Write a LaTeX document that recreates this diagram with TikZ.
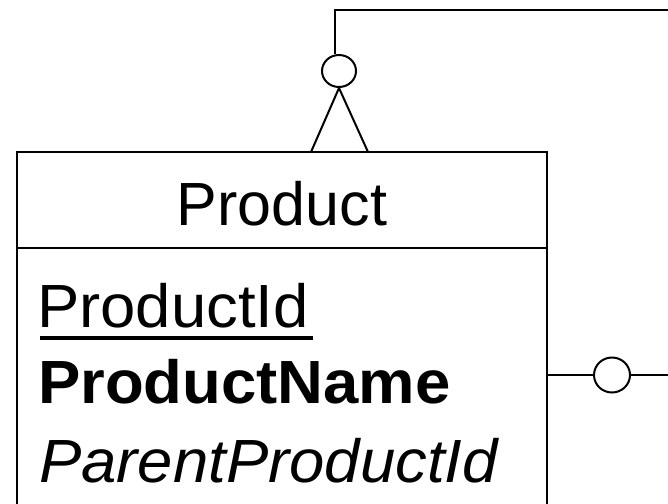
\documentclass[tikz,border=0pt]{standalone}
\usepackage{fontspec}
\setmainfont{Liberation Sans}
\newfontfamily\attrfont[FakeStretch=1.04]{Liberation Sans}
\usetikzlibrary{shapes.geometric}
\tikzset{
  conn/.style={line width=2pt},
  boxline/.style={line width=2pt},
  opt/.style={draw, ellipse, line width=2pt, inner sep=0pt},
  attr/.style={anchor=base west, inner sep=0pt, font=\attrfont\fontsize{61}{73}\selectfont},
  title/.style={anchor=base, inner sep=0pt, font=\fontsize{61}{73}\selectfont}
}
\begin{document}
\begin{tikzpicture}[x=1pt,y=-1pt]
\useasboundingbox (0,0) rectangle (668,503);
\clip (0,0) rectangle (668,503);
% entity box
\coordinate (tl) at (17,152);
\coordinate (tr) at (547,152);
\coordinate (bl) at (17,520);
\coordinate (br) at (547,520);
\coordinate (dl) at (17,248);
\coordinate (dr) at (547,248);
\draw[boxline] (bl) -- (tl) -- (tr) -- (br);
\draw[boxline] (dl) -- (dr);
% texts
\node[title] (ptitle) at (282,225) {Product};
\node[attr] (pid) at (37,327) {ProductId};
\draw[line width=3.5pt] ([xshift=3pt,yshift=-11pt]pid.base west) -- ([xshift=4.5pt,yshift=-11pt]pid.base east);
\node[attr] (pname) at (38,403) {\bfseries ProductName};
\node[attr] (ppid) at (39,482) {\itshape ParentProductId};
% top self relationship
\node[opt, minimum width=34pt, minimum height=32pt] (c1) at (339,71) {};
\coordinate (apex) at (339,88);
\coordinate (f1) at (311,152);
\coordinate (f2) at (368,152);
\coordinate (topl) at (335,10);
\coordinate (topr) at (670,10);
\draw[conn] (topr) -- (topl) -- ([xshift=-4pt]c1.north);
\draw[conn] (f1) -- (apex) -- (f2);
% right relationship
\node[opt, minimum width=36pt, minimum height=35pt] (c2) at (612,375) {};
\coordinate (rs) at (547,375);
\coordinate (re) at (670,375);
\draw[conn] (rs) -- (c2.west);
\draw[conn] (c2.east) -- (re);
\end{tikzpicture}
\end{document}
